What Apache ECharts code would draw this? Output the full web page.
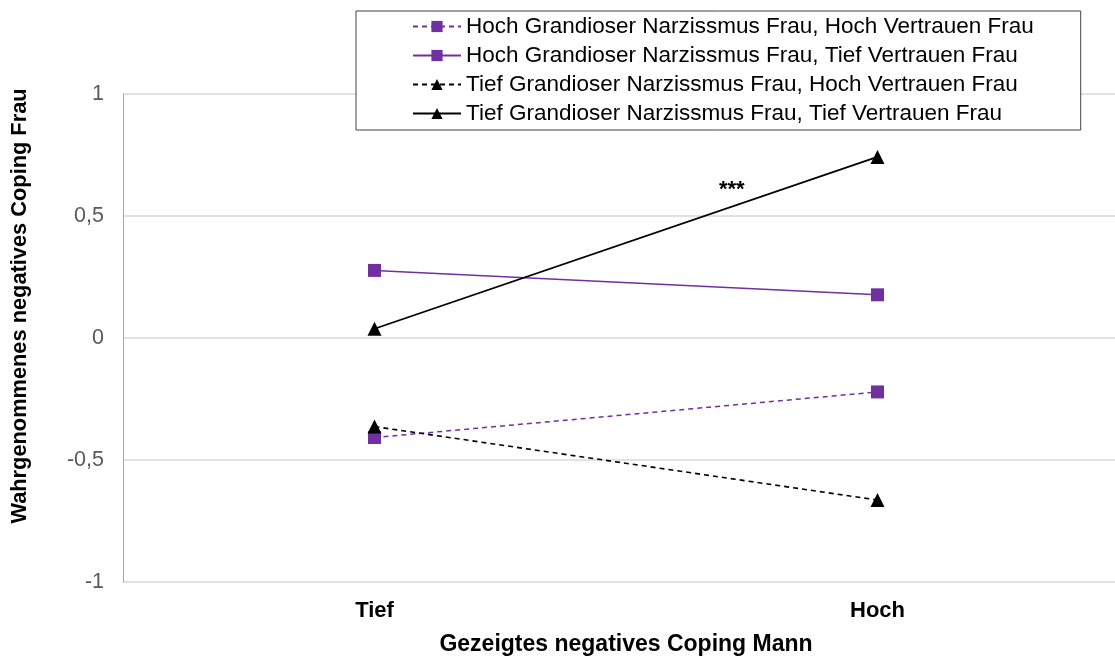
<!DOCTYPE html>
<html>
<head>
<meta charset="utf-8">
<script src="https://cdn.jsdelivr.net/npm/echarts@6/dist/echarts.min.js"></script>
<style>
html, body { margin: 0; padding: 0; background: #fff; }
#chart { width: 1115px; height: 658px; }
</style>
</head>
<body>
<div id="chart"></div>
<script>
// x categories (Gezeigtes negatives Coping Mann)
const categories = ["Tief", "Hoch"];

// series values
const hochGnHochV = [-0.408, -0.221];
const hochGnTiefV = [0.277, 0.177];
const tiefGnHochV = [-0.363, -0.664];
const tiefGnTiefV = [0.038, 0.742];

const seriesNames = [
  "Hoch Grandioser Narzissmus Frau, Hoch Vertrauen Frau",
  "Hoch Grandioser Narzissmus Frau, Tief Vertrauen Frau",
  "Tief Grandioser Narzissmus Frau, Hoch Vertrauen Frau",
  "Tief Grandioser Narzissmus Frau, Tief Vertrauen Frau"
];

const purple = "#7030a0";
const font = "Arial, 'Liberation Sans', sans-serif";

function lineSeries(name, data, color, symbol, size, dashed, width) {
  return {
    name: name,
    type: "line",
    data: data,
    symbol: symbol,
    symbolSize: size,
    showAllSymbol: true,
    animation: false,
    itemStyle: { color: color },
    lineStyle: {
      color: color,
      width: width,
      type: dashed ? [5, 4] : "solid"
    }
  };
}

const chart = echarts.init(document.getElementById("chart"));
chart.setOption({
  animation: false,
  backgroundColor: "#fff",
  grid: {
    left: 123,
    top: 94,
    bottom: 76,
    width: 1006,
    containLabel: false,
    outerBoundsMode: "none"
  },
  legend: {
    orient: "vertical",
    left: 356,
    top: 11,
    padding: [4, 47, 5, 56],
    itemWidth: 48,
    itemHeight: 14,
    itemGap: 6,
    borderColor: "#404040",
    borderWidth: 1,
    backgroundColor: "#fff",
    textStyle: { fontFamily: font, fontSize: 22.5, lineHeight: 22, color: "#000" },
    data: seriesNames
  },
  xAxis: {
    type: "category",
    data: categories,
    boundaryGap: true,
    axisLine: { show: false },
    axisTick: { show: false },
    axisLabel: { fontFamily: font, fontSize: 22, fontWeight: "bold", color: "#000", margin: 18 },
    name: "Gezeigtes negatives Coping Mann",
    nameLocation: "middle",
    nameGap: 51,
    nameTextStyle: { fontFamily: font, fontSize: 23, fontWeight: "bold", color: "#000" }
  },
  yAxis: {
    type: "value",
    min: -1,
    max: 1,
    interval: 0.5,
    axisLine: { show: true, lineStyle: { color: "#a6a6a6", width: 1 } },
    axisTick: { show: false },
    splitLine: { lineStyle: { color: "#d9d9d9", width: 1.5 } },
    axisLabel: {
      fontFamily: font, fontSize: 21.5, color: "#595959", margin: 19,
      formatter: v => String(v).replace(".", ",")
    },
    name: "Wahrgenommenes negatives Coping Frau",
    nameLocation: "middle",
    nameGap: 92,
    nameTextStyle: { fontFamily: font, fontSize: 21.8, fontWeight: "bold", color: "#000", padding: [0, 0, 0, 64] }
  },
  graphic: [
    {
      type: "text",
      left: 719,
      top: 179,
      style: { text: "***", fontFamily: font, fontSize: 22, fontWeight: "bold", fill: "#000" }
    }
  ],
  series: [
    lineSeries(seriesNames[0], hochGnHochV, purple, "rect", 13, true, 1.5),
    lineSeries(seriesNames[1], hochGnTiefV, purple, "rect", 13, false, 1.5),
    lineSeries(seriesNames[2], tiefGnHochV, "#000", "triangle", 14, true, 1.6),
    lineSeries(seriesNames[3], tiefGnTiefV, "#000", "triangle", 14, false, 1.8)
  ]
});
</script>
</body>
</html>
